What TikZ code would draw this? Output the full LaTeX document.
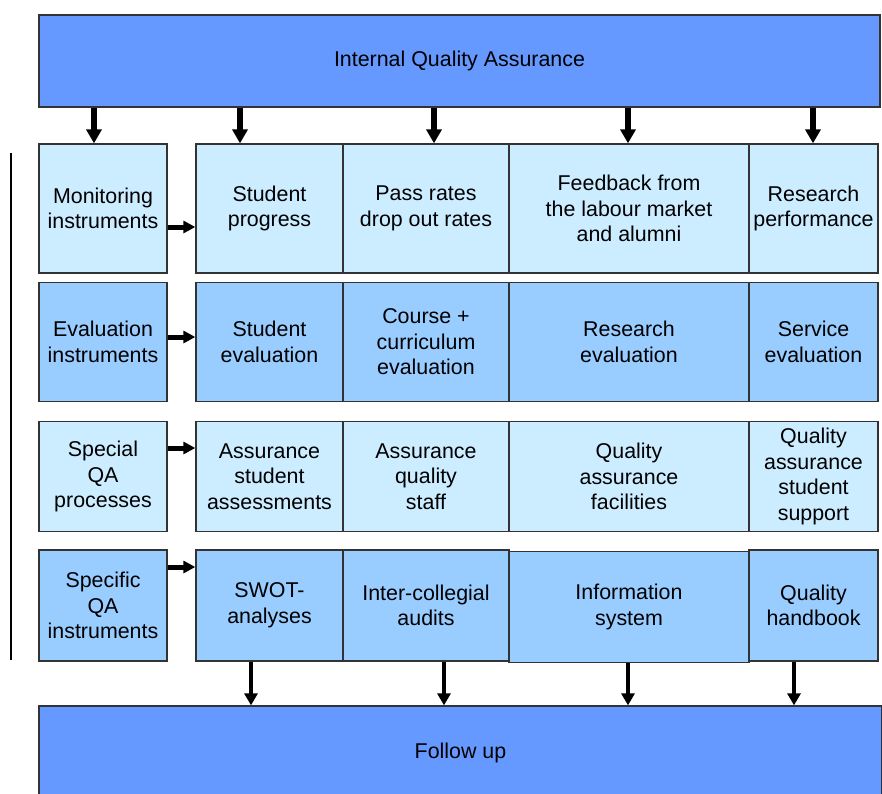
\documentclass[tikz,border=0pt]{standalone}
\usepackage{fontspec}
\setmainfont{Liberation Sans}
\usetikzlibrary{arrows.meta}
\definecolor{qaBlue}{HTML}{6699FF}
\definecolor{qaLight}{HTML}{CCECFF}
\definecolor{qaMid}{HTML}{99CCFF}
\begin{document}
\begin{tikzpicture}
[x=1pt,y=-1pt,
  cellBox/.style={shape=rectangle,draw=black!80,line width=1.3pt,align=center,inner sep=0pt,font=\fontsize{21.4}{25.6}\selectfont},%
  lightCell/.style={cellBox,fill=qaLight},%
  midCell/.style={cellBox,fill=qaMid},%
  bigBox/.style={cellBox,fill=qaBlue},%
  downArrow/.style={-{Triangle[length=14pt,width=15pt]},line width=5.5pt},%
  sideArrow/.style={-{Triangle[length=12pt,width=12pt]},line width=5pt},%
  outArrow/.style={-{Triangle[length=12pt,width=13pt]},line width=4.5pt}]
\useasboundingbox (0,0) rectangle (882,793);
\clip (0,0) rectangle (882,793);
%% top and bottom bars
\node (top) at (459.5,61) [bigBox,minimum width=841pt,minimum height=92pt] {Internal Quality Assurance};
\node (follow) at (460.5,753) [bigBox,minimum width=843pt,minimum height=94pt] {Follow up};
%% grid of cells
\foreach \nodename/\x/\y/\w/\h/\kind/\cellText in {
  mon/103/208.5/128/129/lightCell/{Monitoring\\instruments},
  prog/269.5/208.5/147/129/lightCell/{Student\\progress},
  pass/426/208.5/166/129/lightCell/{Pass rates\\drop out rates},
  feed/629/208.5/240/129/lightCell/{Feedback from\\the labour market\\and alumni},
  perf/813.5/208.5/129/129/lightCell/{Research\\performance},
  evalInst/103/342/128/119/midCell/{Evaluation\\instruments},
  studEval/269.5/342/147/119/midCell/{Student\\evaluation},
  course/426/342/166/119/midCell/{Course +\\curriculum\\evaluation},
  resEval/629/342/240/119/midCell/{Research\\evaluation},
  servEval/813.5/342/129/119/midCell/{Service\\evaluation},
  special/103/476.5/128/110/lightCell/{Special\\QA\\processes},
  assStud/269.5/476.5/147/110/lightCell/{Assurance\\student\\assessments},
  assStaff/426/476.5/166/110/lightCell/{Assurance\\quality\\staff},
  facil/629/476.5/240/110/lightCell/{Quality\\assurance\\facilities},
  support/813.5/476.5/129/110/lightCell/{Quality\\assurance\\student\\support},
  specific/103/605.5/128/111/midCell/{Specific\\QA\\instruments},
  swot/269.5/605.5/147/111/midCell/{SWOT-\\analyses},
  audits/426/605.5/166/111/midCell/{Inter-collegial\\audits},
  info/629/607/240/111/midCell/{Information\\system},
  handbook/813.5/605.5/129/111/midCell/{Quality\\handbook}}
{
  \node (\nodename) at (\x,\y) [\kind,minimum width=\w pt,minimum height=\h pt] {\cellText};
}
%% bracket line on the left
\draw[line width=1.3pt] (11,153) -- (11,660);
%% arrows from the top bar
\foreach \x/\target in {94/mon, 240/prog, 434/pass, 628/feed, 813/perf}
{
  \draw[downArrow] (\x,0 |- top.south) -- (\x,0 |- \target.north);
}
%% arrows from the instruments column
\foreach \from/\to/\y in {mon/prog/227, evalInst/studEval/337, special/assStud/448, specific/swot/567}
{
  \draw[sideArrow] (\from.east |- 0,\y) -- (\to.west |- 0,\y);
}
%% arrows to the follow up bar
\foreach \x/\source in {251/swot, 444/audits, 628/info, 794/handbook}
{
  \draw[outArrow] (\x,0 |- \source.south) -- (\x,0 |- follow.north);
}
\end{tikzpicture}
\end{document}
